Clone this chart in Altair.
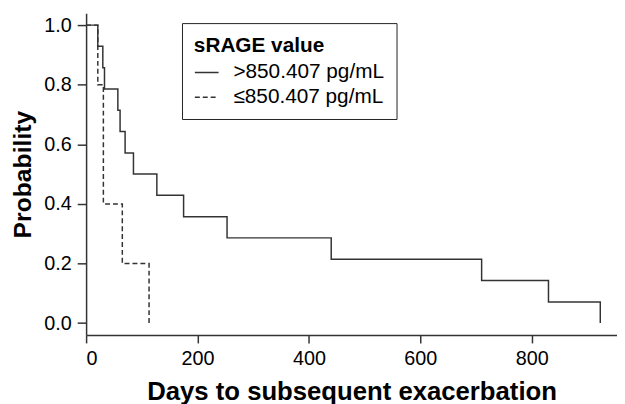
import altair as alt
import pandas as pd

# Kaplan-Meier steps
high_days = [0, 21, 30, 33, 57, 61, 70, 85, 127, 175, 253, 440, 710, 830, 923]
high_prob = [1.0, 0.929, 0.857, 0.786, 0.714, 0.643, 0.571, 0.5, 0.429, 0.357,
             0.286, 0.214, 0.143, 0.071, 0.0]
low_days = [0, 21, 31, 65, 113]
low_prob = [1.0, 0.8, 0.4, 0.2, 0.0]

groups = [">850.407 pg/mL", "≤850.407 pg/mL"]

y_ticks = [0.0, 0.2, 0.4, 0.6, 0.8, 1.0]
x_ticks = [0, 200, 400, 600, 800]

rows = []
for i, (d, p) in enumerate(zip(high_days, high_prob)):
    rows.append({"days": d, "prob": p, "group": groups[0], "order": i})
for i, (d, p) in enumerate(zip(low_days, low_prob)):
    rows.append({"days": d, "prob": p, "group": groups[1], "order": i})
df = pd.DataFrame(rows)

FONT = "Liberation Sans"
LINE = "#333333"

chart = (
    alt.Chart(df)
    .mark_line(interpolate="step-after", strokeWidth=1.5, color=LINE)
    .encode(
        x=alt.X(
            "days:Q",
            scale=alt.Scale(domain=[0, 953], nice=False, zero=False),
            axis=alt.Axis(
                values=x_ticks,
                title="Days to subsequent exacerbation",
                format="d",
            ),
        ),
        y=alt.Y(
            "prob:Q",
            scale=alt.Scale(domain=[-0.04, 1.04], nice=False, zero=False),
            axis=alt.Axis(values=y_ticks, title="Probability", format=".1f"),
        ),
        strokeDash=alt.StrokeDash(
            "group:N",
            scale=alt.Scale(domain=groups, range=[[1, 0], [5, 3]]),
            legend=alt.Legend(
                title="sRAGE value",
                orient="none",
                legendX=97,
                legendY=10,
            ),
        ),
        order="order:Q",
    )
    .properties(
        width=537,
        height=325.5,
        autosize=alt.AutoSizeParams(type="none"),
        padding={"left": 79, "top": 3, "right": 0, "bottom": 67},
    )
    .configure_view(stroke=None)
    .configure_axis(
        grid=False,
        labelFont=FONT,
        labelFontSize=20,
        labelColor="black",
        titleFont=FONT,
        titleFontWeight="bold",
        titleColor="black",
        domainColor=LINE,
        domainWidth=1.5,
        tickColor=LINE,
        tickWidth=1.5,
    )
    .configure_axisX(tickSize=8, labelPadding=6, titlePadding=10, titleFontSize=26)
    .configure_axisY(tickSize=9, labelPadding=6, titlePadding=8, titleFontSize=25)
    .configure_legend(
        titleFont=FONT,
        titleFontSize=21,
        titleFontWeight="bold",
        titleColor="black",
        titlePadding=4,
        labelFont=FONT,
        labelFontSize=21,
        labelColor="black",
        labelOffset=14,
        symbolType="stroke",
        symbolSize=576,
        symbolStrokeColor=LINE,
        symbolStrokeWidth=1.5,
        rowPadding=2,
        padding=12,
        strokeColor="#222222",
        fillColor="white",
        cornerRadius=0,
    )
)

chart.save("out.html", embed_options={"renderer": "svg", "actions": False})
